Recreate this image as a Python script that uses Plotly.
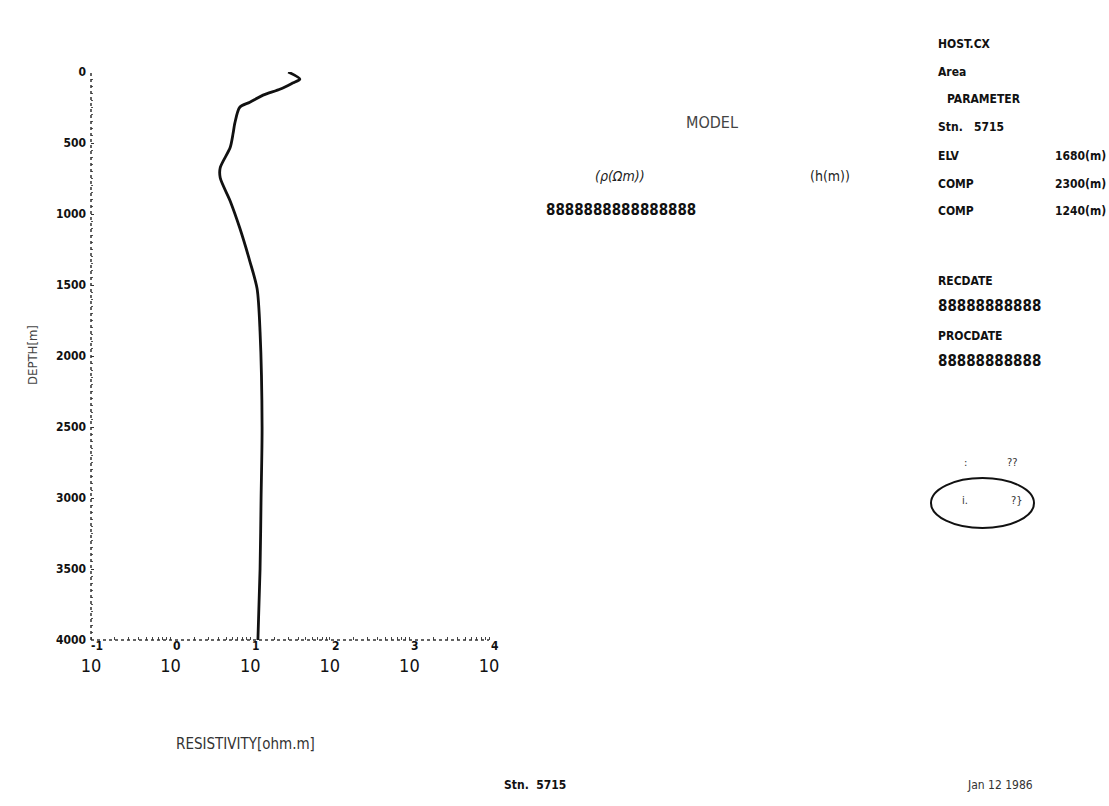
import math
import plotly.graph_objects as go

# ---------------- data ----------------
depth_m = [0, 50, 78, 120, 163, 213, 248, 362, 432, 532, 674, 745, 908,
           1099, 1333, 1525, 1830, 2500, 3000, 3500, 4000]
resistivity = [30, 42, 34, 24, 14.5, 9.9, 7.4, 6.4, 6.1, 5.6, 4.2, 4.2, 5.6,
               7.4, 9.9, 12.2, 13.3, 14.1, 13.7, 13.3, 12.5]

y_ticks = [0, 500, 1000, 1500, 2000, 2500, 3000, 3500, 4000]
x_tickvals = [0.1, 1, 10, 100, 1000, 10000]
x_base = ["10", "10", "10", "10", "10", "10"]
x_exponents = ["-1", "0", "1", "2", "3", "4"]

info_labels = ["HOST.CX", "Area", "PARAMETER", "Stn.   5715", "ELV", "COMP", "COMP"]
info_values = ["", "", "", "", "1680(m)", "2300(m)", "1240(m)"]
date_labels = ["RECDATE", "PROCDATE"]
overflow_short = "88888888888"
overflow_long = "8888888888888888"
model_title = "MODEL"
model_cols = ["(\u03c1(\u03a9m))", "(h(m))"]
station_text = "Stn.  5715"
date_text = "Jan 12 1986"
x_title = "RESISTIVITY[ohm.m]"
y_title = "DEPTH[m]"

# ---------------- layout helpers ----------------
W, H = 1109, 806
L, R, T, B = 91, 489, 72, 640


def px(x):
    return (x - L) / (R - L)


def py(y):
    return (B - y) / (B - T)


FONT = "Liberation Sans Narrow, DejaVu Sans Condensed, Arial Narrow, sans-serif"
INK = "#111111"

fig = go.Figure()
fig.add_trace(go.Scatter(
    x=resistivity, y=depth_m, mode="lines",
    line=dict(color=INK, width=2.8, shape="spline", smoothing=0.8),
    hoverinfo="skip", showlegend=False,
))

fig.update_layout(
    width=W, height=H,
    margin=dict(l=L, r=W - R, t=T, b=H - B, pad=0),
    paper_bgcolor="white", plot_bgcolor="white",
    font=dict(family=FONT, color=INK),
    showlegend=False,
    xaxis=dict(
        type="log", range=[-1.0, 4.0], showgrid=False, zeroline=False,
        showline=False, tickvals=x_tickvals, ticktext=x_base,
        ticks="", ticklabelstandoff=13,
        tickfont=dict(size=18, family=FONT, color=INK),
        minor=dict(ticks="inside", ticklen=3, tickcolor="#444", dtick="D1", showgrid=False),
    ),
    yaxis=dict(
        range=[4000, 0], showgrid=False, zeroline=False, showline=False,
        tickvals=y_ticks, ticktext=["<b>%d</b>" % v for v in y_ticks],
        ticks="inside", ticklen=3, tickcolor="#333", ticklabelstandoff=4,
        tickfont=dict(size=12, family=FONT, color=INK),
        minor=dict(ticks="inside", ticklen=2, tickcolor="#555", dtick=50, showgrid=False),
    ),
)

# dotted axis lines
fig.add_shape(type="line", xref="paper", yref="paper", x0=0, x1=0, y0=0, y1=1,
              line=dict(color="#333", width=1.5, dash="dot"))
fig.add_shape(type="line", xref="paper", yref="paper", x0=0, x1=1, y0=0, y1=0,
              line=dict(color="#333", width=1.5, dash="dot"))

ann = []


def note(text, x, y, size=12, color=INK, xanchor="center", **kw):
    ann.append(dict(x=px(x), y=py(y), xref="paper", yref="paper", text=text,
                    xanchor=xanchor, yanchor="middle", showarrow=False,
                    font=dict(size=size, family=FONT, color=color), **kw))


# exponents of x tick labels
for v, e in zip(x_tickvals, x_exponents):
    ann.append(dict(x=math.log10(v), y=0, xref="x", yref="paper", text="<b>%s</b>" % e,
                    xanchor="center", yanchor="middle",
                    showarrow=False, xshift=6, yshift=-6,
                    font=dict(size=12, family=FONT, color=INK)))

# axis titles
note(x_title, 245, 744, size=15, color="#333")
note(y_title, 33, 355, size=13, color="#444", textangle=-90)

# model block
note(model_title, 712, 122, size=16, color="#444")
note("<i>%s</i>" % model_cols[0], 620, 176, size=14, color="#222")
note(model_cols[1], 830, 176, size=14, color="#222")
note("<b>%s</b>" % overflow_long, 544, 210, size=15, xanchor="left")

# info column
rows_y = [44, 72, 99, 127, 156, 184, 211]
for lab, val, yy in zip(info_labels, info_values, rows_y):
    xx = 945 if lab == "PARAMETER" else 936
    note("<b>%s</b>" % lab, xx, yy, xanchor="left")
    if val:
        note("<b>%s</b>" % val, 1108, yy, xanchor="right")

for lab, yy in zip(date_labels, [281, 336]):
    note("<b>%s</b>" % lab, 936, yy, xanchor="left")
    note("<b>%s</b>" % overflow_short, 936, yy + 25, size=15, xanchor="left")

# hand marks near the ellipse
for t, xx, yy in [(":", 965, 462), ("??", 1012, 462), ("i.", 965, 500), ("?}", 1017, 500)]:
    note(t, xx, yy, size=11, color="#333")

# footer
note("<b>%s</b>" % station_text, 535, 785)
note(date_text, 1000, 785, color="#333")

fig.update_layout(annotations=ann)

# hand-drawn ellipse
fig.add_shape(type="circle", xref="paper", yref="paper",
              x0=px(931), x1=px(1034), y0=py(528), y1=py(478),
              line=dict(color=INK, width=2))

fig.write_html("out.html", include_plotlyjs=True, full_html=True,
               config={"displayModeBar": False},
               post_script="document.body.style.margin='0';document.body.style.overflow='hidden';")
